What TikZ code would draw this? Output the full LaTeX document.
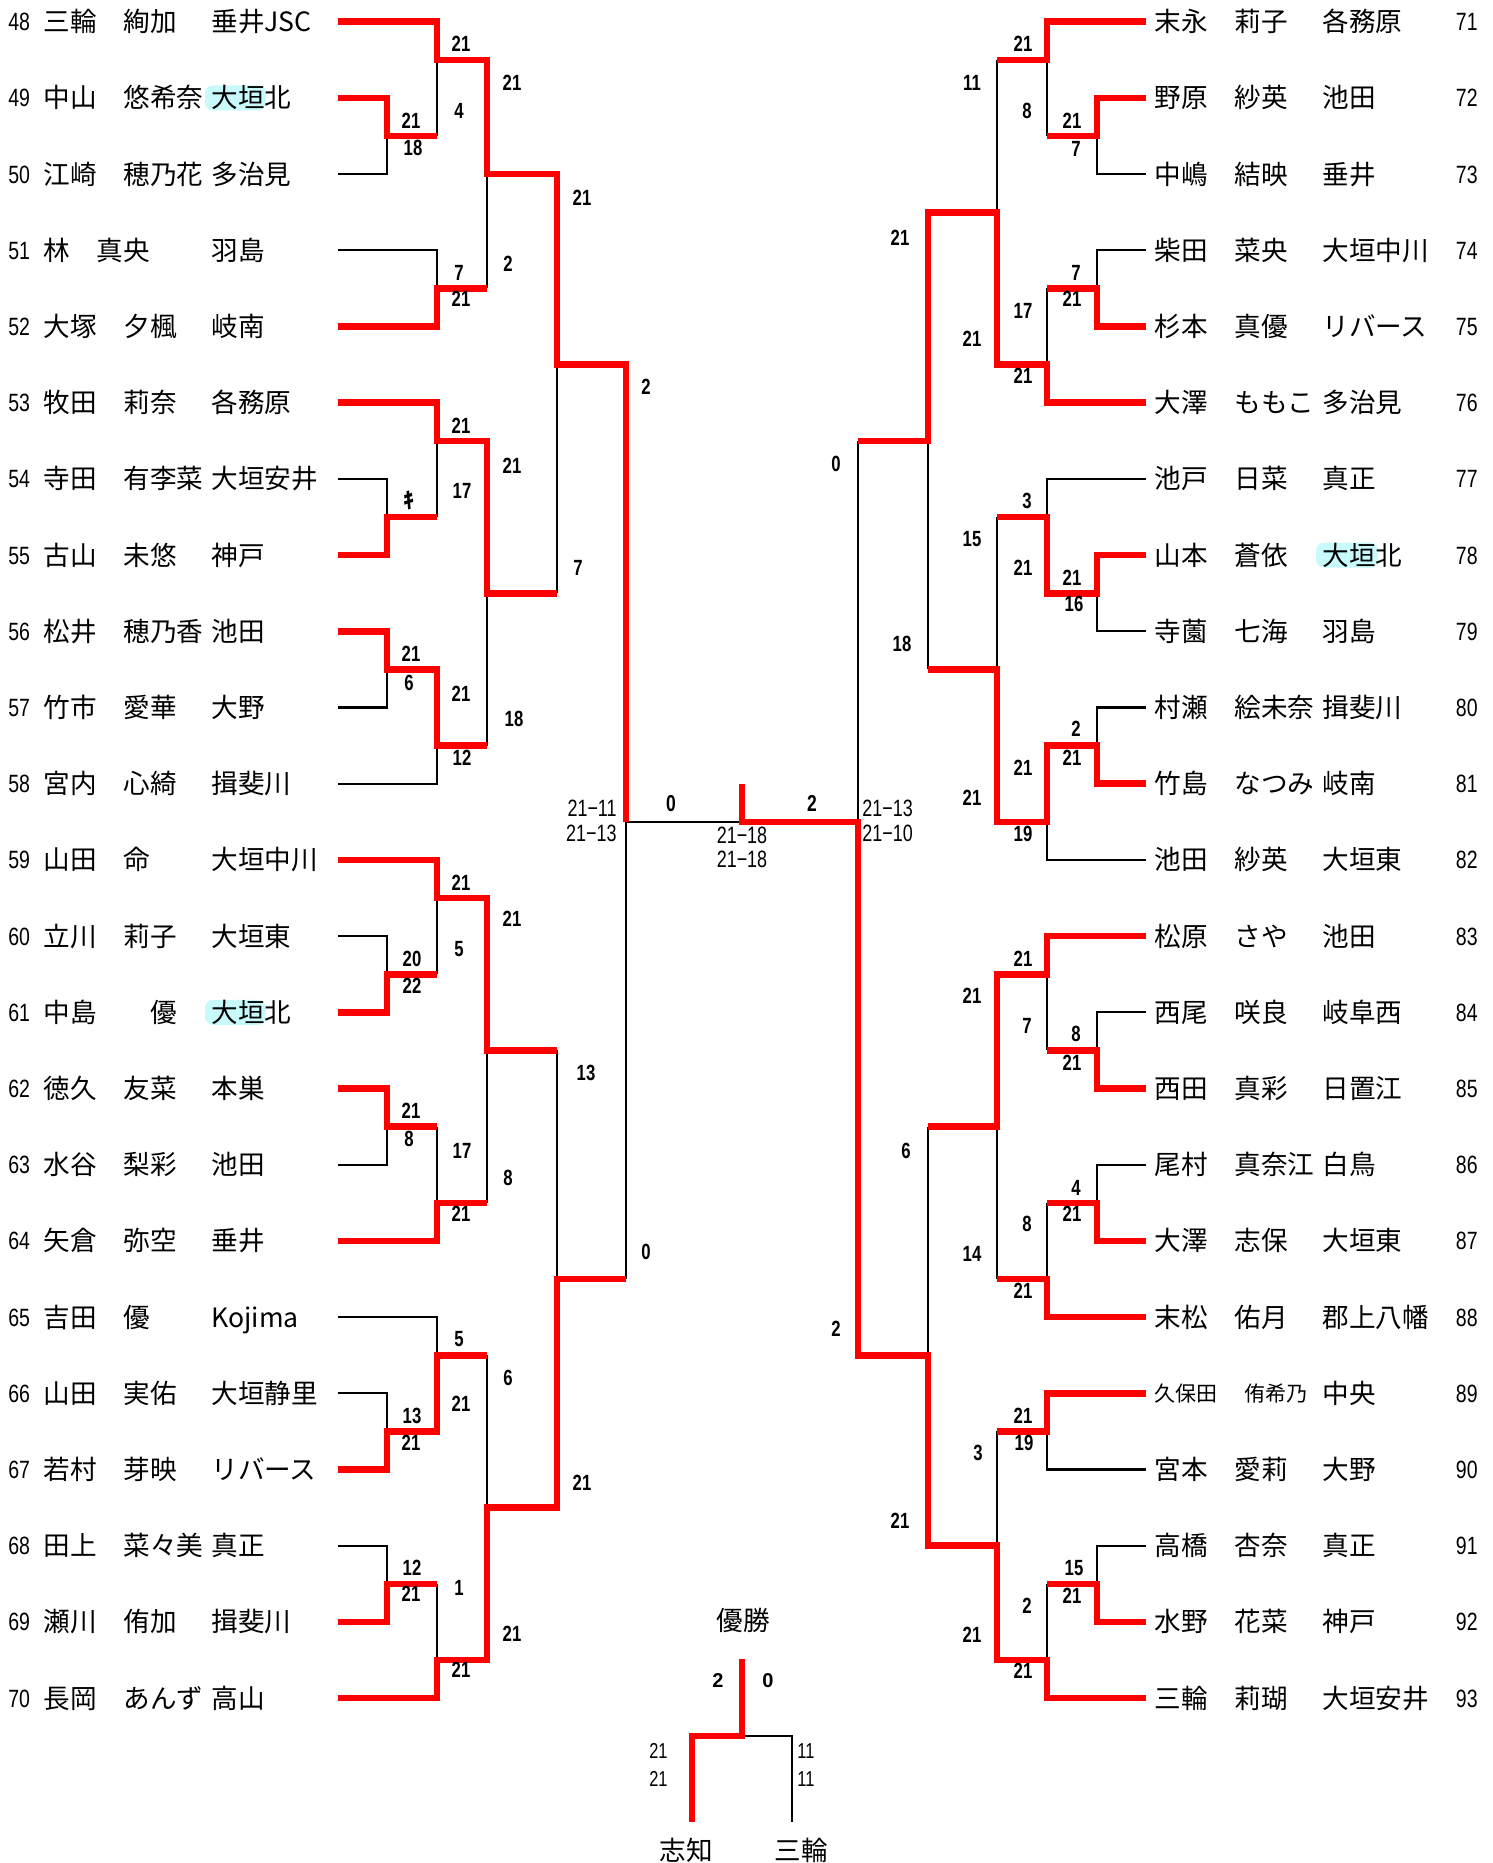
\documentclass[tikz,border=0pt]{standalone}
\usepackage{fontspec}
\newfontfamily\jp{Noto Sans CJK JP}
\newfontfamily\numfont[FakeStretch=0.78]{Liberation Sans}
\newfontfamily\scfont[FakeStretch=0.76]{Liberation Sans}
\newfontfamily\wfont{Liberation Sans}
\definecolor{hl}{RGB}{200,250,252}
\tikzset{
 win/.style={draw=red, line width=3.3pt, line join=miter},
 lose/.style={draw=black, line width=1.1pt},
 jpf/.style={inner sep=0pt, font=\jp\fontsize{13.3}{13.3}\selectfont},
 jps/.style={inner sep=0pt, font=\jp\fontsize{10.5}{10.5}\selectfont},
 numf/.style={inner sep=0pt, font=\numfont\fontsize{12.5}{12.5}\selectfont},
 scf/.style={inner sep=0pt, anchor=base, font=\scfont\bfseries\fontsize{11}{11}\selectfont},
 gsf/.style={inner sep=0pt, font=\scfont\fontsize{11.8}{11.8}\selectfont},
 bsf/.style={inner sep=0pt, font=\scfont\fontsize{10.8}{10.8}\selectfont},
 bbf/.style={inner sep=0pt, anchor=base, font=\wfont\bfseries\fontsize{10}{10}\selectfont},
}
\newcommand\Lrow[6]{%
 \node[numf,anchor=base west] (n#2) at (8,{21.7+38.1*#1+9}) {#2};
 \node[jpf,anchor=base west] (s#2) at (43,{21.7+38.1*#1+10}) {#3};
 \node[jpf,anchor=base west] (g#2) at (#5,{21.7+38.1*#1+10}) {#4};
 \node[jpf,anchor=base west] (c#2) at (211,{21.7+38.1*#1+10}) {#6};}
\newcommand\Rrow[6]{%
 \node[jpf,anchor=base west] (s#2) at (1154,{21.7+38.1*#1+10}) {#3};
 \node[jpf,anchor=base west] (g#2) at (#5,{21.7+38.1*#1+10}) {#4};
 \node[jpf,anchor=base west] (c#2) at (1322,{21.7+38.1*#1+10}) {#6};
 \node[numf,anchor=base east] (n#2) at (1478,{21.7+38.1*#1+9}) {#2};}
\newcommand\mysc[3]{\node[scf] (sc#1x#2) at (#1,{#2+8}) {#3};}
\begin{document}
\begin{tikzpicture}[x=0.5pt,y=-0.5pt]
\useasboundingbox (0,0) rectangle (1493,1863);
% highlights
\fill[hl, rounded corners=4pt] (205,{21.7+38.1*2-12.5}) rectangle (266,{21.7+38.1*2+12.5});
\fill[hl, rounded corners=4pt] (205,{21.7+38.1*26-12.5}) rectangle (266,{21.7+38.1*26+12.5});
\fill[hl, rounded corners=4pt] (1316,{21.7+38.1*14-12.5}) rectangle (1378,{21.7+38.1*14+12.5});
\begin{scope}[y=-19.05pt, yshift=-10.85pt]
% left losers
\draw[lose] (338,4)--(387,4)--(387,3);
\draw[lose] (437,1)--(437,3);
\draw[lose] (338,6)--(437,6)--(437,7);
\draw[lose] (487,4)--(487,7);
\draw[lose] (437,11)--(437,13);
\draw[lose] (338,12)--(387,12)--(387,13);
\draw[lose] (338,18)--(387,18)--(387,17);
\draw[lose] (338,20)--(437,20)--(437,19);
\draw[lose] (487,15)--(487,19);
\draw[lose] (557,9)--(557,15);
\draw[lose] (338,24)--(387,24)--(387,25);
\draw[lose] (437,23)--(437,25);
\draw[lose] (338,30)--(387,30)--(387,29);
\draw[lose] (437,29)--(437,31);
\draw[lose] (487,27)--(487,31);
\draw[lose] (338,34)--(437,34)--(437,35);
\draw[lose] (338,36)--(387,36)--(387,37);
\draw[lose] (338,40)--(387,40)--(387,41);
\draw[lose] (437,41)--(437,43);
\draw[lose] (487,35)--(487,39);
\draw[lose] (557,27)--(557,33);
\draw[lose] (626,21)--(626,33);
\draw[lose] (626,21)--(742,21);
% right losers
\draw[lose] (1146,4)--(1097,4)--(1097,3);
\draw[lose] (1047,1)--(1047,3);
\draw[lose] (1146,6)--(1097,6)--(1097,7);
\draw[lose] (1047,7)--(1047,9);
\draw[lose] (997,1)--(997,5);
\draw[lose] (1146,12)--(1047,12)--(1047,13);
\draw[lose] (1146,16)--(1097,16)--(1097,15);
\draw[lose] (1146,18)--(1097,18)--(1097,19);
\draw[lose] (1146,22)--(1047,22)--(1047,21);
\draw[lose] (997,13)--(997,17);
\draw[lose] (928,11)--(928,17);
\draw[lose] (858,11)--(858,21);
\draw[lose] (1047,25)--(1047,27);
\draw[lose] (1146,26)--(1097,26)--(1097,27);
\draw[lose] (1146,30)--(1097,30)--(1097,31);
\draw[lose] (1047,31)--(1047,33);
\draw[lose] (997,29)--(997,33);
\draw[lose] (1146,38)--(1047,38)--(1047,37);
\draw[lose] (1146,40)--(1097,40)--(1097,41);
\draw[lose] (1047,41)--(1047,43);
\draw[lose] (997,37)--(997,40);
\draw[lose] (928,29)--(928,35);
% left winners
\draw[win] (338,0)--(437,0)--(437,1)--(487,1)--(487,4)--(557,4)--(557,9)--(626,9)--(626,21);
\draw[win] (338,2)--(387,2)--(387,3)--(437,3);
\draw[win] (338,8)--(437,8)--(437,7)--(487,7);
\draw[win] (338,10)--(437,10)--(437,11)--(487,11)--(487,15)--(557,15);
\draw[win] (338,14)--(387,14)--(387,13)--(437,13);
\draw[win] (338,16)--(387,16)--(387,17)--(437,17)--(437,19)--(487,19);
\draw[win] (338,22)--(437,22)--(437,23)--(487,23)--(487,27)--(557,27);
\draw[win] (338,26)--(387,26)--(387,25)--(437,25);
\draw[win] (338,28)--(387,28)--(387,29)--(437,29);
\draw[win] (338,32)--(437,32)--(437,31)--(487,31);
\draw[win] (338,38)--(387,38)--(387,37)--(437,37)--(437,35)--(487,35);
\draw[win] (338,42)--(387,42)--(387,41)--(437,41);
\draw[win] (338,44)--(437,44)--(437,43)--(487,43)--(487,39)--(557,39)--(557,33)--(626,33);
% right winners
\draw[win] (1146,0)--(1047,0)--(1047,1)--(997,1);
\draw[win] (1146,2)--(1097,2)--(1097,3)--(1047,3);
\draw[win] (1146,8)--(1097,8)--(1097,7)--(1047,7);
\draw[win] (1146,10)--(1047,10)--(1047,9)--(997,9)--(997,5)--(928,5)--(928,11)--(858,11);
\draw[win] (1146,14)--(1097,14)--(1097,15)--(1047,15)--(1047,13)--(997,13);
\draw[win] (1146,20)--(1097,20)--(1097,19)--(1047,19)--(1047,21)--(997,21)--(997,17)--(928,17);
\draw[win] (1146,24)--(1047,24)--(1047,25)--(997,25)--(997,29)--(928,29);
\draw[win] (1146,28)--(1097,28)--(1097,27)--(1047,27);
\draw[win] (1146,32)--(1097,32)--(1097,31)--(1047,31);
\draw[win] (1146,34)--(1047,34)--(1047,33)--(997,33);
\draw[win] (1146,36)--(1047,36)--(1047,37)--(997,37);
\draw[win] (1146,42)--(1097,42)--(1097,41)--(1047,41);
\draw[win] (1146,44)--(1047,44)--(1047,43)--(997,43)--(997,40)--(928,40)--(928,35)--(858,35)--(858,21)--(742,21)--(742,20);
\end{scope}
% bottom mini bracket
\draw[lose] (742,1736)--(792,1736)--(792,1822);
\draw[win] (742,1659)--(742,1736)--(692,1736)--(692,1822);
% left names
\Lrow{0}{48}{三輪}{絢加}{123}{垂井JSC}
\Lrow{2}{49}{中山}{悠希奈}{123}{大垣北}
\Lrow{4}{50}{江崎}{穂乃花}{123}{多治見}
\Lrow{6}{51}{林}{真央}{96}{羽島}
\Lrow{8}{52}{大塚}{夕楓}{123}{岐南}
\Lrow{10}{53}{牧田}{莉奈}{123}{各務原}
\Lrow{12}{54}{寺田}{有李菜}{123}{大垣安井}
\Lrow{14}{55}{古山}{未悠}{123}{神戸}
\Lrow{16}{56}{松井}{穂乃香}{123}{池田}
\Lrow{18}{57}{竹市}{愛華}{123}{大野}
\Lrow{20}{58}{宮内}{心綺}{123}{揖斐川}
\Lrow{22}{59}{山田}{命}{123}{大垣中川}
\Lrow{24}{60}{立川}{莉子}{123}{大垣東}
\Lrow{26}{61}{中島}{優}{150}{大垣北}
\Lrow{28}{62}{徳久}{友菜}{123}{本巣}
\Lrow{30}{63}{水谷}{梨彩}{123}{池田}
\Lrow{32}{64}{矢倉}{弥空}{123}{垂井}
\Lrow{34}{65}{吉田}{優}{123}{Kojima}
\Lrow{36}{66}{山田}{実佑}{123}{大垣静里}
\Lrow{38}{67}{若村}{芽映}{123}{リバース}
\Lrow{40}{68}{田上}{菜々美}{123}{真正}
\Lrow{42}{69}{瀬川}{侑加}{123}{揖斐川}
\Lrow{44}{70}{長岡}{あんず}{123}{高山}
% right names
\Rrow{0}{71}{末永}{莉子}{1234}{各務原}
\Rrow{2}{72}{野原}{紗英}{1234}{池田}
\Rrow{4}{73}{中嶋}{結映}{1234}{垂井}
\Rrow{6}{74}{柴田}{菜央}{1234}{大垣中川}
\Rrow{8}{75}{杉本}{真優}{1234}{リバース}
\Rrow{10}{76}{大澤}{ももこ}{1234}{多治見}
\Rrow{12}{77}{池戸}{日菜}{1234}{真正}
\Rrow{14}{78}{山本}{蒼依}{1234}{大垣北}
\Rrow{16}{79}{寺薗}{七海}{1234}{羽島}
\Rrow{18}{80}{村瀬}{絵未奈}{1234}{揖斐川}
\Rrow{20}{81}{竹島}{なつみ}{1234}{岐南}
\Rrow{22}{82}{池田}{紗英}{1234}{大垣東}
\Rrow{24}{83}{松原}{さや}{1234}{池田}
\Rrow{26}{84}{西尾}{咲良}{1234}{岐阜西}
\Rrow{28}{85}{西田}{真彩}{1234}{日置江}
\Rrow{30}{86}{尾村}{真奈江}{1234}{白鳥}
\Rrow{32}{87}{大澤}{志保}{1234}{大垣東}
\Rrow{34}{88}{末松}{佑月}{1234}{郡上八幡}
\node[jps,anchor=base west] (s89) at (1154,{21.7+38.1*36+8}) {久保田};
\node[jps,anchor=base west] (g89) at (1244,{21.7+38.1*36+8}) {侑希乃};
\node[jpf,anchor=base west] (c89) at (1322,{21.7+38.1*36+10}) {中央};
\node[numf,anchor=base east] (n89) at (1478,{21.7+38.1*36+9}) {89};
\Rrow{38}{90}{宮本}{愛莉}{1234}{大野}
\Rrow{40}{91}{高橋}{杏奈}{1234}{真正}
\Rrow{42}{92}{水野}{花菜}{1234}{神戸}
\Rrow{44}{93}{三輪}{莉瑚}{1234}{大垣安井}
% left scores
\mysc{411}{120}{21}\mysc{413}{147}{18}
\mysc{461}{43}{21}\mysc{459}{110}{4}
\mysc{459}{272}{7}\mysc{461}{298}{21}
\mysc{512}{82}{21}\mysc{508}{263}{2}
\mysc{461}{425}{21}\mysc{462}{490}{17}
\node[inner sep=0pt, anchor=base, font=\jp\bfseries\fontsize{11}{11}\selectfont] (kiken) at (409,508) {ｷ};
\mysc{411}{653}{21}\mysc{409}{682}{6}
\mysc{461}{693}{21}\mysc{462}{757}{12}
\mysc{512}{465}{21}\mysc{514}{718}{18}
\mysc{582}{197}{21}\mysc{578}{567}{7}
\mysc{412}{958}{20}\mysc{412}{985}{22}
\mysc{461}{882}{21}\mysc{459}{948}{5}
\mysc{411}{1110}{21}\mysc{409}{1138}{8}
\mysc{462}{1150}{17}\mysc{461}{1213}{21}
\mysc{512}{918}{21}\mysc{508}{1177}{8}
\mysc{459}{1338}{5}\mysc{461}{1403}{21}
\mysc{412}{1415}{13}\mysc{411}{1442}{21}
\mysc{412}{1567}{12}\mysc{411}{1593}{21}
\mysc{459}{1587}{1}\mysc{461}{1669}{21}
\mysc{508}{1377}{6}\mysc{512}{1633}{21}
\mysc{586}{1072}{13}\mysc{582}{1482}{21}
\mysc{646}{386}{2}\mysc{646}{1251}{0}
% right scores
\mysc{1072}{120}{21}\mysc{1076}{148}{7}
\mysc{1023}{43}{21}\mysc{1027}{110}{8}
\mysc{1076}{272}{7}\mysc{1072}{298}{21}
\mysc{1023}{310}{17}\mysc{1023}{375}{21}
\mysc{972}{82}{11}\mysc{972}{338}{21}
\mysc{1027}{500}{3}\mysc{1023}{567}{21}
\mysc{1072}{577}{21}\mysc{1074}{603}{16}
\mysc{1076}{728}{2}\mysc{1072}{757}{21}
\mysc{1023}{767}{21}\mysc{1023}{833}{19}
\mysc{972}{538}{15}\mysc{972}{797}{21}
\mysc{900}{237}{21}\mysc{902}{643}{18}
\mysc{1023}{958}{21}\mysc{1027}{1025}{7}
\mysc{1076}{1033}{8}\mysc{1072}{1062}{21}
\mysc{1076}{1187}{4}\mysc{1072}{1213}{21}
\mysc{1027}{1223}{8}\mysc{1023}{1290}{21}
\mysc{972}{995}{21}\mysc{972}{1253}{14}
\mysc{1023}{1415}{21}\mysc{1024}{1442}{19}
\mysc{1074}{1567}{15}\mysc{1072}{1595}{21}
\mysc{1027}{1605}{2}\mysc{1023}{1670}{21}
\mysc{978}{1452}{3}\mysc{972}{1634}{21}
\mysc{906}{1150}{6}\mysc{900}{1520}{21}
\mysc{836}{463}{0}\mysc{836}{1328}{2}
% centre
\node[scf, font=\scfont\bfseries\fontsize{11.5}{11.5}\selectfont] (fl) at (671,811) {0};
\node[scf, font=\scfont\bfseries\fontsize{11.5}{11.5}\selectfont] (fr) at (812,811) {2};
\node[gsf,anchor=base east] (cl1) at (617,816) {21−11};
\node[gsf,anchor=base east] (cl2) at (617,841) {21−13};
\node[gsf,anchor=base] (cm1) at (742,843) {21−18};
\node[gsf,anchor=base] (cm2) at (742,867) {21−18};
\node[gsf,anchor=base west] (cr1) at (862,816) {21−13};
\node[gsf,anchor=base west] (cr2) at (862,841) {21−10};
% bottom
\node[jpf,anchor=base] (yusho) at (743,1630) {優勝};
\node[bbf] (b2) at (718,1687) {2};
\node[bbf] (b0) at (768,1687) {0};
\node[bsf,anchor=base east] (bl1) at (668,1758) {21};
\node[bsf,anchor=base east] (bl2) at (668,1786) {21};
\node[bsf,anchor=base west] (br1) at (797,1758) {11};
\node[bsf,anchor=base west] (br2) at (797,1786) {11};
\node[jpf,anchor=base] (pshichi) at (686,1860) {志知};
\node[jpf,anchor=base] (pmiwa) at (801,1860) {三輪};
\end{tikzpicture}
\end{document}
